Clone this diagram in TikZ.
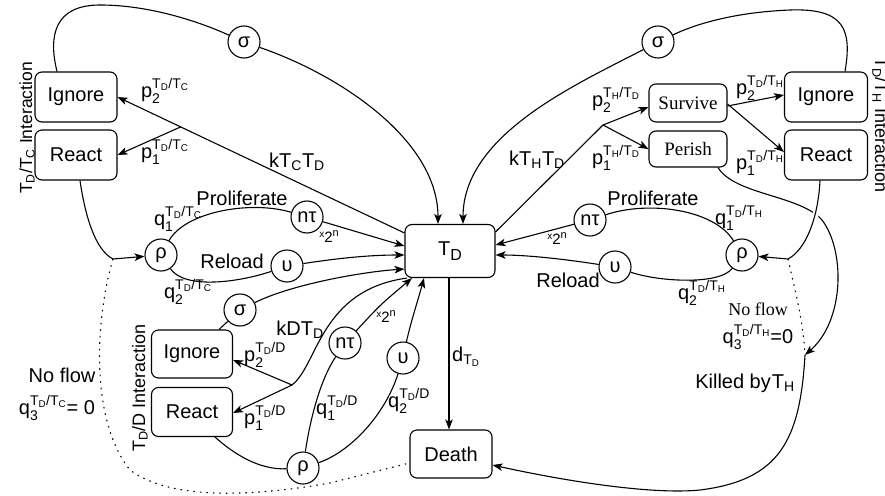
\documentclass[tikz,border=0pt]{standalone}
\usepackage{amsmath}
\usepackage{fontspec}
\setmainfont{Liberation Sans}
\newfontfamily\seriffont{Liberation Serif}
\usetikzlibrary{arrows.meta}
\newcommand{\sbs}[2]{#1$_{\text{#2}}$}
\newcommand{\plab}[3]{#1$_{\text{#2}}^{\text{#3}}$}
\newcommand{\xtwo}{{\fontsize{15}{15}\selectfont\raisebox{5pt}{\fontsize{10}{10}\selectfont x}2\raisebox{6pt}{\fontsize{11}{11}\selectfont n}}}
\begin{document}
\begin{tikzpicture}[x=1pt,y=-1pt,line width=1.1pt,
  rbox/.style={draw, rounded corners=7pt, minimum width=82pt, minimum height=50pt, inner sep=0pt, font=\fontsize{20}{24}\selectfont},
  sbox/.style={rbox, font=\fontsize{19}{22}\selectfont\seriffont, minimum width=78pt},
  circ/.style={draw, circle, minimum size=32pt, inner sep=0pt, font=\fontsize{20}{24}\selectfont},
  lbl/.style={inner sep=0pt, font=\fontsize{20}{24}\selectfont},
  rlbl/.style={inner sep=0pt, font=\fontsize{18}{22}\selectfont, anchor=base},
  myarr/.style={-{Stealth[length=10pt,width=7.5pt,inset=2.5pt]}},
  dots/.style={dash pattern=on 1.5pt off 5pt}]
\useasboundingbox (0,0) rectangle (885,495);

% boxes
\node[rbox] (ignL) at (76,97) {Ignore};
\node[rbox] (reaL) at (76,155) {React};
\node[rbox, minimum width=90pt, minimum height=53pt] (TD) at (450,251) {T\raisebox{-5pt}{\fontsize{16}{16}\selectfont D}};
\node[rbox, minimum height=48pt] (death) at (451,454) {Death};
\node[rbox, minimum width=81pt, minimum height=48pt] (ignD) at (192,354) {Ignore};
\node[rbox, minimum width=81pt, minimum height=49pt] (reaD) at (192,412) {React};
\node[sbox, minimum height=38pt] (surv) at (688,103) {Survive};
\node[sbox, minimum height=36pt] (per) at (688,149) {Perish};
\node[rbox, minimum width=83pt] (ignR) at (826,97) {Ignore};
\node[rbox, minimum width=83pt] (reaR) at (826,155) {React};

% circles
\node[circ] (sigL) at (244,42) {σ};
\node[circ] (sigR) at (658,42) {σ};
\node[circ] (sigD) at (240,310) {σ};
\node[circ] (ntL) at (307,217) {nτ};
\node[circ] (upL) at (287,266) {υ};
\node[circ] (rhoL) at (161,255) {ρ};
\node[circ] (ntR) at (590,220) {nτ};
\node[circ] (upR) at (615,267) {υ};
\node[circ] (rhoR) at (742,255) {ρ};
\node[circ] (rhoB) at (303,468) {ρ};
\node[circ] (ntB) at (345,343) {nτ};
\node[circ] (upB) at (403,358) {υ};

% helper coordinates
\coordinate (TDnw) at ([yshift=-9pt]TD.north west);
\coordinate (TDne) at ([yshift=-8pt]TD.north east);
\path (TDnw) -- (ignL.east) coordinate[pos=0.78] (jL);
\coordinate (jR) at (603,125);
\coordinate (jD) at (292,385);
\coordinate (cL) at (113,259);
\coordinate (cR) at (788,259);
\coordinate (K) at (805,355);

% top loops through sigma
\draw ([xshift=-19pt]ignL.north) .. controls (48,35) and (55,5) .. (100,5) .. controls (150,5) and (200,22) .. (sigL);
\draw[myarr] (sigL) .. controls (340,75) and (438,140) .. ([xshift=-12pt]TD.north);
\draw ([xshift=19pt]ignR.north) .. controls (852,30) and (845,8) .. (790,10) .. controls (740,12) and (700,22) .. (sigR);
\draw[myarr] (sigR) .. controls (575,85) and (463,135) .. ([xshift=13pt]TD.north);

% T_D / T_C interaction
\draw[myarr] (TDnw) -- (ignL.east);
\draw[myarr] (jL) -- (reaL.east);
\draw ([xshift=4pt]reaL.south) .. controls (85,215) and (95,250) .. (cL);
\draw[myarr] (cL) -- (rhoL);
\draw (rhoL) .. controls (185,212) and (250,200) .. (ntL);
\draw (rhoL) .. controls (185,290) and (240,282) .. (upL);
\draw[myarr] (ntL) -- ([yshift=5pt]TD.west);
\draw[myarr] (upL) .. controls (340,258) and (370,255) .. ([yshift=-4pt]TD.west);
\draw[dots] (cL) .. controls (95,320) and (90,420) .. (130,470) .. controls (170,500) and (250,497) .. (330,483) -- ([yshift=-9pt]death.west);

% T_D / D interaction
\draw ([xshift=-14pt]ignD.north east) -- (sigD);
\draw[myarr] (sigD) .. controls (290,285) and (360,272) .. ([yshift=-18pt]TD.west);
\draw (jD) .. controls (318,365) and (320,290) .. ([xshift=-43pt]TD.south);
\draw[myarr] (jD) -- ([yshift=-6pt]ignD.east);
\draw[myarr] (jD) -- ([yshift=-1pt]reaD.east);
\draw ([xshift=23pt]reaD.south) .. controls (235,455) and (260,470) .. (rhoB);
\draw (rhoB) .. controls (310,420) and (320,380) .. (ntB);
\draw (rhoB) .. controls (350,452) and (385,415) .. (upB);
\draw[myarr] (ntB) .. controls (380,305) .. ([xshift=-38pt]TD.south);
\draw[myarr] (upB) .. controls (410,325) and (418,300) .. ([xshift=-26pt]TD.south);
\draw[myarr] ([xshift=-1pt]TD.south) -- ([xshift=-1pt]TD.south |- death.north);

% T_D / T_H interaction
\draw (TDne) -- (jR);
\draw[myarr] (jR) -- ([yshift=-4pt]surv.west);
\draw[myarr] (jR) -- (per.west);
\draw[myarr] ([yshift=-3pt]surv.east) -- ([yshift=2pt]ignR.west);
\draw[myarr] ([yshift=-1pt]surv.east) -- ([yshift=3pt]reaR.west);
\draw[myarr] ([xshift=30pt]per.south) .. controls (735,195) and (800,195) .. (822,220) .. controls (845,250) and (845,320) .. (K);
\draw[preaction={draw=white, line width=6pt, shorten <=6pt, shorten >=8pt}] ([xshift=-6pt]reaR.south) .. controls (818,220) and (805,250) .. (cR);
\draw[myarr] (cR) -- (rhoR);
\draw (rhoR) .. controls (715,210) and (650,200) .. (ntR);
\draw (rhoR) .. controls (720,285) and (660,282) .. (upR);
\draw[myarr] (ntR) -- ([yshift=6pt]TD.east);
\draw[myarr] (upR) .. controls (570,260) and (530,255) .. ([yshift=-4pt]TD.east);
\draw[dots] (cR) .. controls (795,290) and (803,320) .. (K);
\draw[myarr] (K) .. controls (800,440) and (780,480) .. (700,490) .. controls (650,495) and (560,480) .. ([yshift=-11pt]death.east);

% labels left
\node[rlbl, rotate=90, font=\fontsize{17.5}{21}\selectfont] (intL) at (32,128) {\sbs{T}{D}/\sbs{T}{C} Interaction};
\node[lbl] (lp2L) at (165,91) {\plab{p}{2}{\sbs{T}{D}/\sbs{T}{C}}};
\node[lbl] (lp1L) at (165,152) {\plab{p}{1}{\sbs{T}{D}/\sbs{T}{C}}};
\node[lbl] (lkC) at (297,162) {k\sbs{T}{C}\sbs{T}{D}};
\node[lbl] (lprL) at (242,198) {Proliferate};
\node[lbl] (lq1L) at (178,219) {\plab{q}{1}{\sbs{T}{D}/\sbs{T}{C}}};
\node[lbl] (lreL) at (232,261) {Reload};
\node[lbl] (lq2L) at (188,292) {\plab{q}{2}{\sbs{T}{D}/\sbs{T}{C}}};
\node[lbl] (lxL) at (329,237) {\xtwo};
\node[lbl] (lnfL) at (62,375) {No flow};
\node[lbl] (lq3L) at (57,408) {\plab{q}{3}{\sbs{T}{D}/\sbs{T}{C}}= 0};

% labels D
\node[rlbl, rotate=90] (intD) at (145,388) {\sbs{T}{D}/D Interaction};
\node[lbl] (lkD) at (300,330) {kD\sbs{T}{D}};
\node[lbl] (lp2D) at (265,355) {\plab{p}{2}{\sbs{T}{D}/D}};
\node[lbl] (lp1D) at (265,418) {\plab{p}{1}{\sbs{T}{D}/D}};
\node[lbl] (lq1D) at (337,408) {\plab{q}{1}{\sbs{T}{D}/D}};
\node[lbl] (lxD) at (386,317) {\xtwo};
\node[lbl] (lq2D) at (409,401) {\plab{q}{2}{\sbs{T}{D}/D}};
\node[lbl] (ldT) at (466,357) {d$_{\text{\sbs{T}{D}}}$};

% labels right
\node[rlbl, rotate=-90] (intR) at (875,125) {\sbs{T}{D}/\sbs{T}{H} Interaction};
\node[lbl] (lkH) at (537,160) {k\sbs{T}{H}\sbs{T}{D}};
\node[lbl] (lp2H) at (616,100) {\plab{p}{2}{\sbs{T}{H}/\sbs{T}{D}}};
\node[lbl] (lp1H) at (616,158) {\plab{p}{1}{\sbs{T}{H}/\sbs{T}{D}}};
\node[lbl] (lp2R) at (760,88) {\plab{p}{2}{\sbs{T}{D}/\sbs{T}{H}}};
\node[lbl] (lp1R) at (760,163) {\plab{p}{1}{\sbs{T}{D}/\sbs{T}{H}}};
\node[lbl] (lprR) at (653,198) {Proliferate};
\node[lbl] (lq1R) at (739,218) {\plab{q}{1}{\sbs{T}{D}/\sbs{T}{H}}};
\node[lbl] (lxR) at (557,239) {\xtwo};
\node[lbl] (lreR) at (568,280) {Reload};
\node[lbl] (lq2R) at (702,293) {\plab{q}{2}{\sbs{T}{D}/\sbs{T}{H}}};
\node[lbl, font=\fontsize{18}{22}\selectfont\seriffont] (lnfR) at (758,309) {No flow};
\node[lbl] (lq3R) at (758,337) {\plab{q}{3}{\sbs{T}{D}/\sbs{T}{H}}=0};
\node[lbl] (lkill) at (745,383) {Killed by\kern1pt\sbs{T}{H}};
\end{tikzpicture}
\end{document}
